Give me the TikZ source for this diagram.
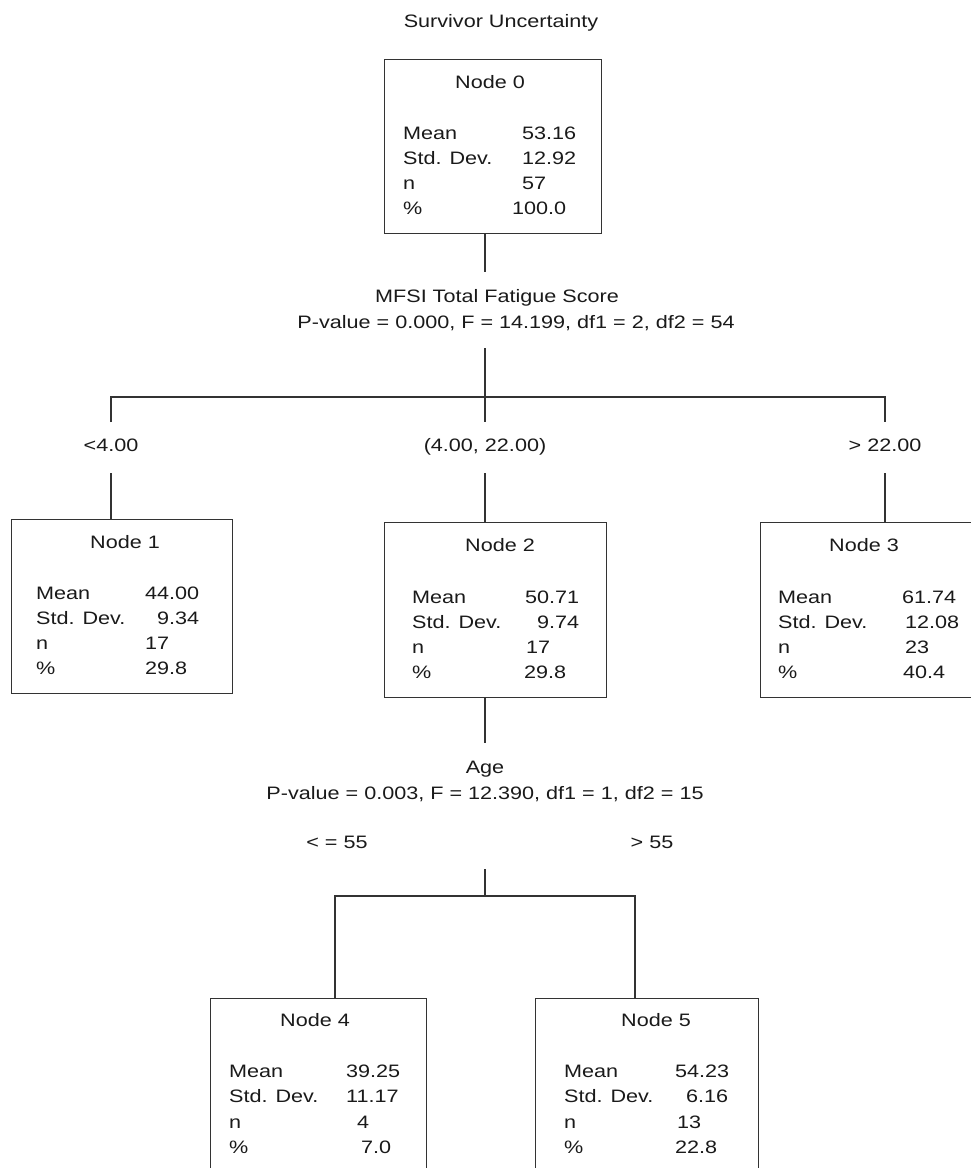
\documentclass[tikz,border=0pt]{standalone}
\usepackage{fontspec}
\setmainfont[FakeStretch=1.2]{Liberation Sans}
\definecolor{ink}{HTML}{1A1A1A}
\definecolor{edge}{HTML}{333333}
\tikzset{
  box/.style={draw=edge, line width=1.4pt, inner sep=0pt, anchor=north west, rectangle},
  conn/.style={draw=edge, line width=1.4pt},
  txt/.style={inner sep=0pt, anchor=base, text=ink, font=\fontsize{18}{21}\selectfont},
  lab/.style={inner sep=0pt, anchor=base west, text=ink, font=\fontsize{18}{21}\selectfont}
}
\begin{document}
\begin{tikzpicture}[x=1pt,y=-1pt]
\useasboundingbox (0,0) rectangle (971,1168);
\clip (0,0) rectangle (971,1168);
\fill[white] (0,0) rectangle (971,1168);

% title
\node[txt] (title) at (501,27) {Survivor Uncertainty};

% boxes
\node[box, minimum width=217pt, minimum height=174pt] (n0) at (384,59) {};
\node[box, minimum width=221pt, minimum height=174pt] (n1) at (11,519) {};
\node[box, minimum width=222pt, minimum height=175pt] (n2) at (384,522) {};
\node[box, minimum width=240pt, minimum height=175pt] (n3) at (760,522) {};
\node[box, minimum width=216pt, minimum height=200pt] (n4) at (210,998) {};
\node[box, minimum width=223pt, minimum height=200pt] (n5) at (535,998) {};

% Node 0 contents
\node[txt] (n0t) at (490,88) {Node 0};
\node[lab] (n0a) at (403,139) {Mean};
\node[lab] (n0b) at (403,164) {Std. Dev.};
\node[lab] (n0c) at (403,189) {n};
\node[lab] (n0d) at (403,214) {\%};
\node[lab] (n0av) at (522,139) {53.16};
\node[lab] (n0bv) at (522,164) {12.92};
\node[lab] (n0cv) at (522,189) {57};
\node[lab] (n0dv) at (512,214) {100.0};

% Node 1 contents
\node[txt] (n1t) at (125,548) {Node 1};
\node[lab] (n1a) at (36,599) {Mean};
\node[lab] (n1b) at (36,624) {Std. Dev.};
\node[lab] (n1c) at (36,649) {n};
\node[lab] (n1d) at (36,674) {\%};
\node[lab] (n1av) at (145,599) {44.00};
\node[lab] (n1bv) at (157,624) {9.34};
\node[lab] (n1cv) at (145,649) {17};
\node[lab] (n1dv) at (145,674) {29.8};

% Node 2 contents
\node[txt] (n2t) at (500,551) {Node 2};
\node[lab] (n2a) at (412,603) {Mean};
\node[lab] (n2b) at (412,628) {Std. Dev.};
\node[lab] (n2c) at (412,653) {n};
\node[lab] (n2d) at (412,678) {\%};
\node[lab] (n2av) at (525,603) {50.71};
\node[lab] (n2bv) at (537,628) {9.74};
\node[lab] (n2cv) at (526,653) {17};
\node[lab] (n2dv) at (524,678) {29.8};

% Node 3 contents
\node[txt] (n3t) at (864,551) {Node 3};
\node[lab] (n3a) at (778,603) {Mean};
\node[lab] (n3b) at (778,628) {Std. Dev.};
\node[lab] (n3c) at (778,653) {n};
\node[lab] (n3d) at (778,678) {\%};
\node[lab] (n3av) at (902,603) {61.74};
\node[lab] (n3bv) at (905,628) {12.08};
\node[lab] (n3cv) at (905,653) {23};
\node[lab] (n3dv) at (903,678) {40.4};

% Node 4 contents
\node[txt] (n4t) at (315,1026) {Node 4};
\node[lab] (n4a) at (229,1077) {Mean};
\node[lab] (n4b) at (229,1102) {Std. Dev.};
\node[lab] (n4c) at (229,1128) {n};
\node[lab] (n4d) at (229,1153) {\%};
\node[lab] (n4av) at (346,1077) {39.25};
\node[lab] (n4bv) at (346,1102) {11.17};
\node[lab] (n4cv) at (357,1128) {4};
\node[lab] (n4dv) at (361,1153) {7.0};

% Node 5 contents
\node[txt] (n5t) at (656,1026) {Node 5};
\node[lab] (n5a) at (564,1077) {Mean};
\node[lab] (n5b) at (564,1102) {Std. Dev.};
\node[lab] (n5c) at (564,1128) {n};
\node[lab] (n5d) at (564,1153) {\%};
\node[lab] (n5av) at (675,1077) {54.23};
\node[lab] (n5bv) at (686,1102) {6.16};
\node[lab] (n5cv) at (677,1128) {13};
\node[lab] (n5dv) at (675,1153) {22.8};

% first split
\node[txt] (s0a) at (497,302) {MFSI Total Fatigue Score};
\node[txt] (s0b) at (516,328) {P-value = 0.000, F = 14.199, df1 = 2, df2 = 54};
\node[txt] (c1) at (111,451) {<4.00};
\node[txt] (c2) at (485,451) {(4.00, 22.00)};
\node[txt] (c3) at (885,451) {> 22.00};

\coordinate (a0) at (485,272);
\coordinate (b0) at (485,348);
\coordinate (tM) at (485,422);
\coordinate (hL) at (111,397);
\coordinate (hR) at (885,397);
\coordinate (tL) at (111,422);
\coordinate (tR) at (885,422);
\coordinate (uL) at (111,473);
\coordinate (uM) at (485,473);
\coordinate (uR) at (885,473);

\draw[conn] (a0 |- n0.south) -- (a0);
\draw[conn] (b0) -- (tM);
\draw[conn] (tL) -- (hL) -- (hR) -- (tR);
\draw[conn] (uL) -- (uL |- n1.north);
\draw[conn] (uM) -- (uM |- n2.north);
\draw[conn] (uR) -- (uR |- n3.north);

% second split
\coordinate (a2) at (485,743);
\draw[conn] (a2 |- n2.south) -- (a2);
\node[txt] (s2a) at (485,773) {Age};
\node[txt] (s2b) at (485,799) {P-value = 0.003, F = 12.390, df1 = 1, df2 = 15};
\node[txt] (c4) at (337,848) {< = 55};
\node[txt] (c5) at (652,848) {> 55};

\coordinate (b2) at (485,869);
\coordinate (h2) at (485,896);
\coordinate (h4) at (335,896);
\coordinate (h5) at (635,896);
\draw[conn] (b2) -- (h2);
\draw[conn] (h4 |- n4.north) -- (h4) -- (h5) -- (h5 |- n5.north);
\end{tikzpicture}
\end{document}
